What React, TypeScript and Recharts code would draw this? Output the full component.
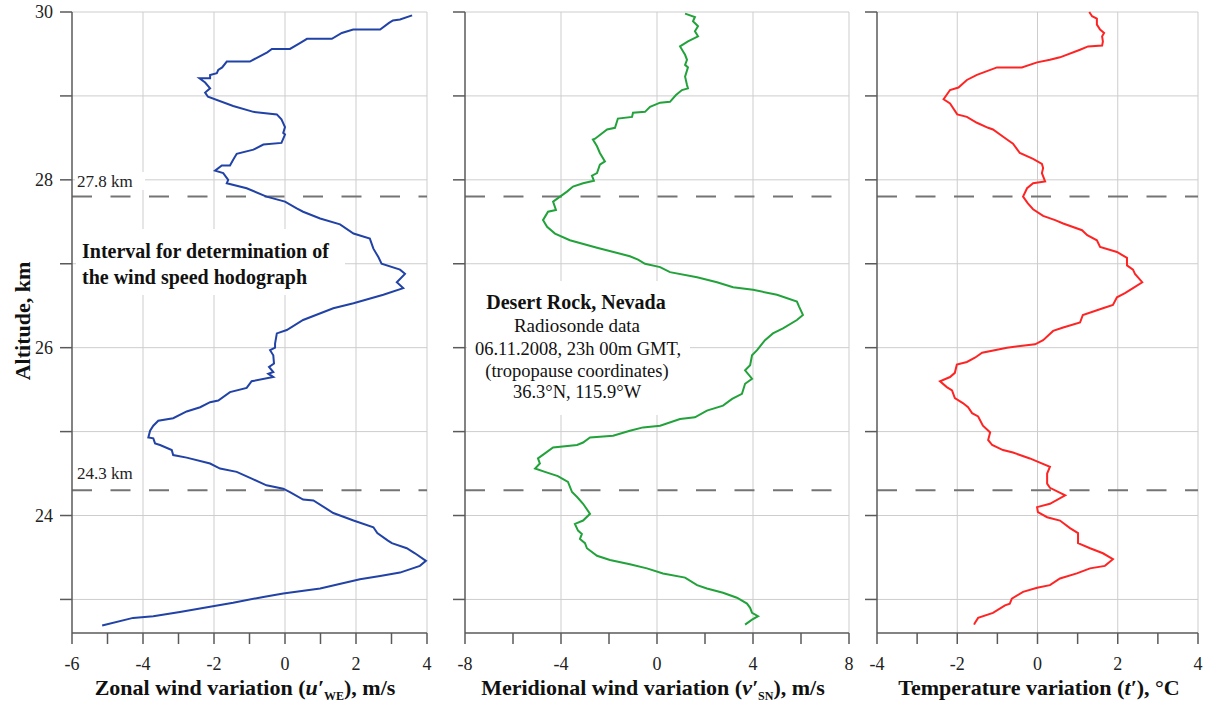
import React from 'react';
import { LineChart, Line, XAxis, YAxis, CartesianGrid, ReferenceLine } from 'recharts';

// ---- Data ----
const uAlt = [29.96, 29.91, 29.9, 29.87, 29.79, 29.79, 29.75, 29.68, 29.68, 29.63, 29.56, 29.56, 29.52, 29.41, 29.41, 29.34, 29.31, 29.27, 29.25, 29.21, 29.21, 29.16, 29.09, 29.04, 28.99, 28.88, 28.81, 28.78, 28.72, 28.63, 28.56, 28.54, 28.44, 28.42, 28.36, 28.31, 28.24, 28.17, 28.17, 28.11, 28.08, 28.0, 27.96, 27.9, 27.8, 27.74, 27.66, 27.62, 27.54, 27.47, 27.36, 27.3, 27.18, 27.08, 27.0, 26.93, 26.88, 26.78, 26.71, 26.63, 26.53, 26.47, 26.33, 26.21, 26.17, 26.05, 26.0, 25.97, 25.91, 25.81, 25.77, 25.71, 25.69, 25.65, 25.6, 25.52, 25.47, 25.37, 25.35, 25.29, 25.24, 25.16, 25.13, 25.07, 25.01, 24.93, 24.92, 24.86, 24.84, 24.78, 24.72, 24.69, 24.62, 24.56, 24.52, 24.43, 24.36, 24.32, 24.28, 24.19, 24.18, 24.03, 23.94, 23.86, 23.79, 23.7, 23.67, 23.61, 23.55, 23.46, 23.4, 23.32, 23.28, 23.24, 23.13, 23.07, 23.03, 22.96, 22.92, 22.85, 22.8, 22.78, 22.69];
const uVal = [3.58, 3.24, 3.04, 2.93, 2.68, 1.92, 1.6, 1.32, 0.62, 0.42, 0.14, -0.37, -0.5, -0.99, -1.64, -1.77, -1.88, -1.92, -2.11, -2.11, -2.41, -2.25, -2.11, -2.25, -2.17, -1.46, -0.89, -0.23, -0.1, 0.0, -0.05, 0.0, -0.1, -0.61, -0.89, -1.36, -1.46, -1.55, -1.78, -1.97, -1.74, -1.6, -1.64, -1.08, -0.52, 0.0, 0.33, 0.51, 0.99, 1.55, 1.93, 2.39, 2.49, 2.63, 2.72, 3.24, 3.38, 3.15, 3.33, 2.77, 1.93, 1.36, 0.51, 0.05, -0.23, -0.28, -0.28, -0.42, -0.33, -0.31, -0.45, -0.33, -0.47, -0.33, -0.94, -1.08, -1.55, -1.88, -2.11, -2.39, -2.77, -3.15, -3.57, -3.71, -3.8, -3.85, -3.71, -3.66, -3.52, -3.19, -3.15, -2.77, -2.11, -1.83, -1.36, -0.89, -0.52, -0.05, 0.14, 0.51, 0.8, 1.36, 1.93, 2.49, 2.6, 2.9, 3.01, 3.43, 3.66, 3.97, 3.8, 3.24, 2.68, 2.11, 0.99, -0.05, -0.61, -1.46, -2.03, -2.96, -3.71, -4.28, -5.15];

const vAlt = [29.98, 29.94, 29.89, 29.83, 29.77, 29.71, 29.65, 29.59, 29.49, 29.43, 29.37, 29.34, 29.23, 29.13, 29.09, 29.07, 29.01, 28.93, 28.92, 28.87, 28.81, 28.8, 28.75, 28.73, 28.62, 28.6, 28.49, 28.48, 28.4, 28.32, 28.22, 28.18, 28.08, 28.05, 27.99, 27.96, 27.92, 27.86, 27.8, 27.74, 27.64, 27.62, 27.52, 27.44, 27.36, 27.28, 27.19, 27.09, 27.05, 27.0, 26.96, 26.9, 26.84, 26.78, 26.72, 26.69, 26.63, 26.55, 26.49, 26.39, 26.33, 26.23, 26.17, 26.09, 25.97, 25.91, 25.79, 25.73, 25.63, 25.57, 25.45, 25.39, 25.31, 25.25, 25.17, 25.15, 25.07, 25.05, 25.01, 24.95, 24.93, 24.87, 24.84, 24.81, 24.74, 24.68, 24.62, 24.56, 24.52, 24.47, 24.4, 24.28, 24.22, 24.14, 24.02, 23.94, 23.9, 23.82, 23.78, 23.72, 23.67, 23.61, 23.52, 23.47, 23.42, 23.37, 23.31, 23.26, 23.17, 23.13, 23.08, 23.02, 22.95, 22.9, 22.84, 22.8, 22.76, 22.7];
const vVal = [1.17, 1.58, 1.5, 1.71, 1.58, 1.71, 1.29, 0.96, 1.17, 1.25, 1.17, 1.29, 1.17, 1.25, 1.29, 1.04, 0.79, 0.54, 0.13, -0.29, -0.5, -1.0, -1.04, -1.63, -1.75, -2.08, -2.58, -2.67, -2.5, -2.38, -2.17, -2.38, -2.5, -2.71, -2.63, -3.08, -3.5, -3.75, -4.04, -4.33, -4.21, -4.54, -4.75, -4.58, -4.25, -3.63, -2.5, -1.13, -0.79, -0.5, 0.13, 0.54, 1.67, 2.5, 3.17, 4.0, 5.0, 5.83, 5.92, 6.08, 5.83, 5.25, 4.83, 4.5, 4.17, 3.96, 3.88, 3.67, 3.96, 3.67, 3.54, 3.13, 2.75, 2.08, 1.58, 0.96, 0.13, -0.58, -1.13, -1.83, -2.79, -3.08, -3.33, -4.33, -4.67, -4.96, -4.88, -5.08, -4.67, -4.13, -3.71, -3.54, -3.33, -3.08, -2.79, -3.08, -3.42, -3.29, -3.13, -3.21, -3.0, -2.92, -2.5, -1.96, -1.13, -0.42, 0.25, 1.17, 1.67, 2.08, 2.75, 3.33, 3.75, 3.88, 3.96, 4.21, 3.96, 3.67];

const tAlt = [30.0, 29.95, 29.92, 29.85, 29.79, 29.75, 29.71, 29.65, 29.6, 29.59, 29.55, 29.46, 29.43, 29.4, 29.34, 29.34, 29.25, 29.19, 29.1, 29.07, 28.96, 28.91, 28.78, 28.75, 28.68, 28.62, 28.6, 28.48, 28.43, 28.32, 28.25, 28.19, 28.14, 28.08, 27.98, 27.96, 27.9, 27.8, 27.72, 27.65, 27.57, 27.52, 27.48, 27.4, 27.34, 27.28, 27.2, 27.14, 27.07, 26.98, 26.93, 26.88, 26.78, 26.71, 26.65, 26.6, 26.51, 26.47, 26.39, 26.3, 26.24, 26.2, 26.09, 26.04, 26.0, 25.94, 25.88, 25.83, 25.8, 25.7, 25.65, 25.6, 25.53, 25.49, 25.4, 25.34, 25.29, 25.22, 25.18, 25.07, 24.99, 24.9, 24.84, 24.78, 24.75, 24.68, 24.63, 24.58, 24.5, 24.38, 24.33, 24.24, 24.14, 24.1, 24.04, 23.98, 23.94, 23.85, 23.79, 23.67, 23.61, 23.55, 23.48, 23.4, 23.37, 23.31, 23.25, 23.17, 23.14, 23.09, 23.01, 22.95, 22.93, 22.84, 22.78, 22.72, 22.7];
const tVal = [1.29, 1.36, 1.48, 1.48, 1.56, 1.66, 1.61, 1.63, 1.61, 1.26, 1.06, 0.56, 0.31, -0.01, -0.39, -1.01, -1.51, -1.76, -1.97, -2.18, -2.34, -2.18, -2.0, -1.76, -1.51, -1.23, -1.11, -0.76, -0.61, -0.44, -0.11, 0.11, 0.14, 0.11, 0.19, -0.11, -0.26, -0.36, -0.24, -0.11, 0.14, 0.44, 0.64, 1.11, 1.24, 1.48, 1.56, 1.98, 2.23, 2.23, 2.38, 2.43, 2.61, 2.38, 2.18, 1.98, 1.88, 1.63, 1.13, 1.06, 0.64, 0.39, 0.14, -0.06, -0.76, -1.38, -1.56, -1.76, -2.01, -2.06, -2.18, -2.43, -2.26, -2.13, -2.06, -1.86, -1.73, -1.63, -1.48, -1.36, -1.18, -1.23, -1.13, -0.86, -0.61, -0.19, 0.06, 0.31, 0.24, 0.24, 0.31, 0.69, 0.31, -0.01, 0.01, 0.24, 0.56, 0.81, 1.01, 1.01, 1.31, 1.63, 1.88, 1.68, 1.31, 0.98, 0.56, 0.31, -0.01, -0.36, -0.64, -0.69, -0.81, -1.11, -1.48, -1.56, -1.58];

const altDomain = [22.6, 30];
const altTicks = [23, 24, 25, 26, 27, 28, 29, 30];
const altLabels = [24, 26, 28, 30];
const boundaryAlts = [27.8, 24.3];

const uTicks = [-6, -5, -4, -3, -2, -1, 0, 1, 2, 3, 4];
const uLabels = [-6, -4, -2, 0, 2, 4];
const uGrid = [-4, -2, 0, 2, 4];

const vTicks = [-8, -6, -4, -2, 0, 2, 4, 6, 8];
const vLabels = [-8, -4, 0, 4, 8];
const vGrid = [-4, 0, 4, 8];

const tTicks = [-4, -3, -2, -1, 0, 1, 2, 3, 4];
const tLabels = [-4, -2, 0, 2, 4];
const tGrid = [-2, 0, 2, 4];

const SERIF = 'Liberation Serif';
const AXIS = '#5a5a5a';
const GRID = '#cdcdcd';

function buildRows(alts: number[], vals: number[]) {
  return alts.map((a, i) => ({ alt: a, x: vals[i] }));
}

function makeXTick(labels: number[]) {
  return (props: any) => {
    const { x, y, payload } = props;
    const v = payload.value;
    if (!labels.includes(v)) return <g />;
    return (
      <text x={x} y={y} dy={14} textAnchor="middle" fontFamily={SERIF} fontSize={18} fill="#222">
        {String(v)}
      </text>
    );
  };
}

function makeYTick(labels: number[]) {
  return (props: any) => {
    const { x, y, payload } = props;
    const v = payload.value;
    if (!labels.includes(v)) return <g />;
    return (
      <text x={x} y={y} dy={6} textAnchor="end" fontFamily={SERIF} fontSize={18} fill="#222">
        {String(v)}
      </text>
    );
  };
}

type PanelProps = {
  left: number;
  width: number;
  marginRight: number;
  yWidth: number;
  alts: number[];
  vals: number[];
  color: string;
  domain: number[];
  ticks: number[];
  labels: number[];
  grid: number[];
  yLabels: number[];
};

function Panel(p: PanelProps) {
  const rows = buildRows(p.alts, p.vals);
  return (
    <div style={{ position: 'absolute', left: p.left, top: 0, fontFamily: SERIF }}>
      <LineChart width={p.width} height={704} data={rows} margin={{ top: 12, right: p.marginRight, bottom: 0, left: 0 }}>
        <CartesianGrid stroke={GRID} strokeWidth={1} verticalValues={p.grid} horizontalValues={altTicks} />
        <XAxis
          type="number"
          dataKey="x"
          domain={p.domain}
          ticks={p.ticks}
          interval={0}
          height={71}
          tickSize={11}
          tickMargin={12}
          axisLine={{ stroke: AXIS, strokeWidth: 1.5 }}
          tickLine={{ stroke: AXIS, strokeWidth: 1.5 }}
          tick={makeXTick(p.labels)}
        />
        <YAxis
          type="number"
          domain={altDomain}
          ticks={altTicks}
          interval={0}
          width={p.yWidth}
          tickSize={12}
          tickMargin={7}
          axisLine={{ stroke: AXIS, strokeWidth: 1.5 }}
          tickLine={{ stroke: AXIS, strokeWidth: 1.5 }}
          tick={makeYTick(p.yLabels)}
        />
        {boundaryAlts.map((a) => (
          <ReferenceLine key={a} y={a} stroke="#747474" strokeWidth={2} strokeDasharray="20 18.5" />
        ))}
        <Line type="linear" dataKey="alt" stroke={p.color} strokeWidth={2} dot={false} isAnimationActive={false} />
      </LineChart>
    </div>
  );
}

export default function App() {
  return (
    <div style={{ position: 'absolute', left: 0, top: 0, width: 1207, height: 704, background: '#fff', overflow: 'hidden', fontFamily: SERIF }}>
      <Panel left={0} width={440} marginRight={13} yWidth={72} alts={uAlt} vals={uVal} color="#2142a6"
        domain={[-6, 4]} ticks={uTicks} labels={uLabels} grid={uGrid} yLabels={altLabels} />
      <Panel left={400} width={460} marginRight={11} yWidth={65} alts={vAlt} vals={vVal} color="#22a23a"
        domain={[-8, 8]} ticks={vTicks} labels={vLabels} grid={vGrid} yLabels={[]} />
      <Panel left={860} width={347} marginRight={9} yWidth={17} alts={tAlt} vals={tVal} color="#ff2424"
        domain={[-4, 4]} ticks={tTicks} labels={tLabels} grid={tGrid} yLabels={[]} />
      <svg width={1207} height={704} style={{ position: 'absolute', left: 0, top: 0, pointerEvents: 'none' }} fontFamily={SERIF}>
        <rect x={76} y={229} width={269} height={66} fill="#fff" />
        <rect x={75} y={172} width={70} height={18} fill="#fff" />
        <rect x={467} y={281} width={223} height={134} fill="#fff" />

        <text transform="translate(22,321) rotate(-90)" textAnchor="middle" dominantBaseline="central" fontSize={22} fontWeight="bold" fill="#111">Altitude, km</text>

        <text x={77} y={187} fontSize={17} fill="#222">27.8 km</text>
        <text x={77} y={479} fontSize={17} fill="#222">24.3 km</text>

        <text x={82} y={258} fontSize={20} fontWeight="bold" fill="#111">Interval for determination of</text>
        <text x={82} y={284} fontSize={20} fontWeight="bold" fill="#111">the wind speed hodograph</text>

        <text x={576} y={309} textAnchor="middle" fontSize={20} fontWeight="bold" fill="#111">Desert Rock, Nevada</text>
        <text x={577} y={332} textAnchor="middle" fontSize={19} fill="#111">Radiosonde data</text>
        <text x={578} y={355} textAnchor="middle" fontSize={18.5} fill="#111">06.11.2008, 23h 00m GMT,</text>
        <text x={577} y={377} textAnchor="middle" fontSize={18.5} fill="#111">(tropopause coordinates)</text>
        <text x={577} y={398} textAnchor="middle" fontSize={18.5} fill="#111">36.3°N, 115.9°W</text>

        <text x={245} y={695} textAnchor="middle" fontSize={22} fontWeight="bold" fill="#111">
          Zonal wind variation (<tspan fontStyle="italic">u′</tspan><tspan fontSize={12} dy={5}>WE</tspan><tspan dy={-5}>), m/s</tspan>
        </text>
        <text x={653} y={695} textAnchor="middle" fontSize={22} fontWeight="bold" fill="#111">
          Meridional wind variation (<tspan fontStyle="italic">v′</tspan><tspan fontSize={12} dy={5}>SN</tspan><tspan dy={-5}>), m/s</tspan>
        </text>
        <text x={1039} y={695} textAnchor="middle" fontSize={22} fontWeight="bold" fill="#111">
          Temperature variation (<tspan fontStyle="italic">t′</tspan>), °C
        </text>
      </svg>
    </div>
  );
}
